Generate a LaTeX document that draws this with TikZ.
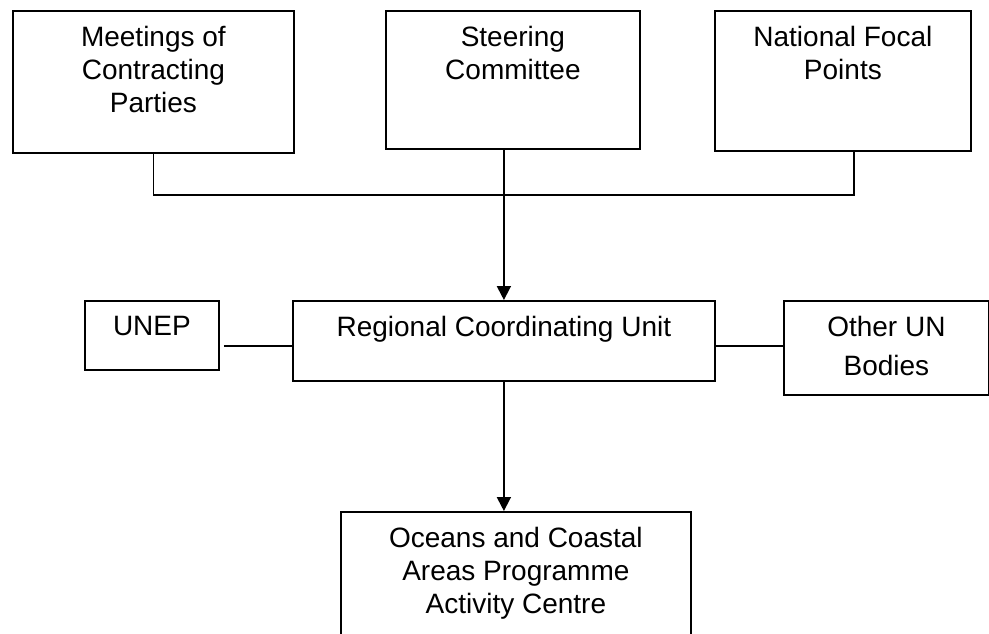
\documentclass[tikz,border=0pt]{standalone}
\usepackage{fontspec}
\setmainfont{Liberation Sans}
\usetikzlibrary{arrows.meta}

\begin{document}
\begin{tikzpicture}[x=1pt, y=-1pt, line width=1.8pt,
  unit/.style={draw, rectangle, inner sep=0pt, anchor=north west},
  boxtext/.style={anchor=north, inner sep=0pt, yshift=-15pt, align=center, font=\fontsize{28}{33}\selectfont},
  tip/.style={-{Triangle[width=14pt,length=14pt]}}]
\useasboundingbox (0,0) rectangle (989,633);
\clip (0,0) rectangle (989,633);

% top row
\node[unit, minimum width=281pt, minimum height=142pt, label={[boxtext]north:Meetings of\\Contracting\\Parties}] (meet) at (12,10) {};
\node[unit, minimum width=254pt, minimum height=138pt, label={[boxtext]north:Steering\\Committee}] (steer) at (385,10) {};
\node[unit, minimum width=256pt, minimum height=140pt, label={[boxtext]north:National Focal\\Points}] (focal) at (714,10) {};

% middle row
\node[unit, minimum width=422pt, minimum height=80pt, label={[boxtext]north:Regional Coordinating Unit}] (rcu) at (292,300) {};
\node[unit, minimum width=134pt, minimum height=69pt, label={[boxtext]north:UNEP}] (unep) at (84,300) {};
\node[unit, minimum width=205pt, minimum height=94pt, label={[boxtext]north:Other UN\\[6pt]Bodies}] (other) at (783,300) {};

% bottom
\node[unit, minimum width=350pt, minimum height=160pt, label={[boxtext]north:Oceans and Coastal\\Areas Programme\\Activity Centre}] (ocean) at (340,511) {};

\coordinate (bus) at (0,195);
\coordinate (link) at (0,346);
\draw (meet.south) -- (meet.south |- bus) -- ([xshift=11pt]focal.south |- bus) -- ([xshift=11pt]focal.south);
\draw [tip] (rcu.north |- steer.south) -- (rcu.north);
\draw [shorten <=4pt] (unep.east |- link) -- (rcu.west |- link);
\draw (rcu.east |- link) -- (other.west |- link);
\draw [tip] (rcu.south) -- (rcu.south |- ocean.north);
\end{tikzpicture}
\end{document}
